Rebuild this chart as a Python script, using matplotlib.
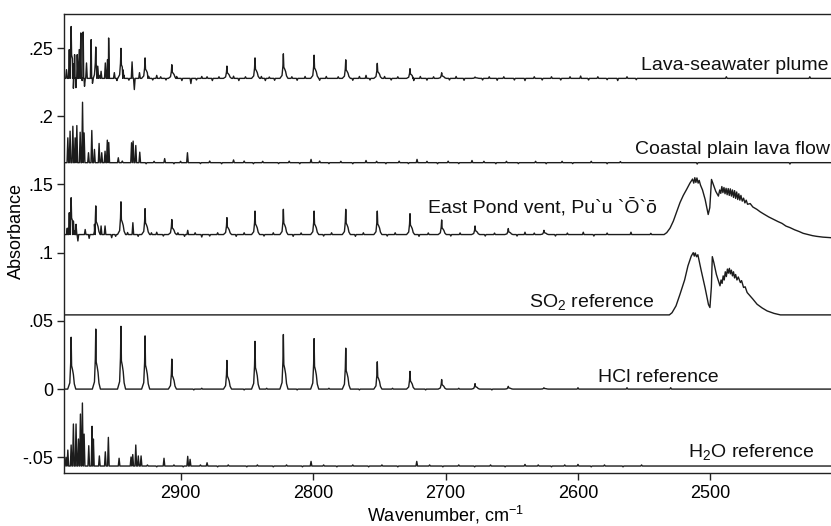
import numpy as np
import matplotlib.pyplot as plt

plt.rcParams['font.family'] = ['Liberation Sans', 'DejaVu Sans']
plt.rcParams['mathtext.fontset'] = 'custom'
plt.rcParams['mathtext.rm'] = 'Liberation Sans'

# HCl line positions (cm-1) shared by the traces
hcl_lines = [2982.6, 2964.0, 2945.0, 2926.8, 2906.6, 2865.0, 2843.8, 2822.4,
             2799.2, 2775.3, 2751.5, 2726.8, 2702.9, 2677.7, 2652.6, 2625.7]

# heights of those lines above each trace's baseline
hcl_ref_h = [0.038, 0.044, 0.046, 0.039, 0.022, 0.021, 0.035, 0.040,
             0.037, 0.030, 0.020, 0.013, 0.007, 0.004, 0.002, 0.001]
pond_h = [0.027, 0.021, 0.024, 0.019, 0.011, 0.0124, 0.0172, 0.0185,
          0.0172, 0.0185, 0.0172, 0.0153, 0.0107, 0.0063, 0.0044, 0.0031]
plume_h = [0.038, 0.023, 0.022, 0.015, 0.010, 0.009, 0.015, 0.018,
           0.017, 0.0136, 0.011, 0.0071, 0.0041, 0.001, 0.0, 0.0]

# baselines
plume_base = 0.2278
coastal_base = 0.1660
pond_base = 0.1133
so2_base = 0.0544
hcl_base = 0.0
h2o_base = -0.0564

# water / other narrow lines: (wavenumber, absorbance at tip)
plume_spikes = [(2986.1, 0.2342), (2984.0, 0.2489), (2980.9, 0.2205), (2980.0, 0.2452),
                (2979.0, 0.2210), (2978.0, 0.2452), (2976.5, 0.2489), (2975.3, 0.2611),
                (2974.3, 0.2262), (2973.5, 0.2618), (2972.5, 0.2220), (2971.0, 0.2391),
                (2967.5, 0.2562), (2966.5, 0.2242), (2962.5, 0.2367), (2960.0, 0.2330),
                (2956.8, 0.2391), (2955.1, 0.2416), (2954.3, 0.2574), (2950.0, 0.2320),
                (2936.6, 0.2399), (2934.9, 0.2196), (2931.0, 0.2320), (2918.0, 0.2300),
                (2892.2, 0.2240), (2880.0, 0.2290), (2836.0, 0.2262), (2760.0, 0.2300),
                (2724.0, 0.2262), (2640.0, 0.2262), (2598.0, 0.2295), (2570.0, 0.2262),
                (2488.0, 0.2290), (2425.0, 0.2290)]

# small baseline wiggles
plume_wiggles = [(2948, 0.2262), (2943, 0.2295), (2939, 0.2265), (2924, 0.2292),
                 (2921, 0.2266), (2915, 0.2290), (2911, 0.2266), (2903, 0.2292),
                 (2899, 0.2262), (2888, 0.2266), (2884, 0.2292), (2876, 0.2262),
                 (2871, 0.2290), (2860, 0.2294), (2856, 0.2262), (2851, 0.2290),
                 (2839, 0.2292), (2833, 0.2288), (2829, 0.2264), (2816, 0.2290),
                 (2812, 0.2264), (2806, 0.2292), (2795, 0.2264), (2790, 0.2292),
                 (2781, 0.2290), (2770, 0.2264), (2765, 0.2292), (2757, 0.2266),
                 (2746, 0.2292), (2741, 0.2266), (2736, 0.2290), (2719, 0.2292),
                 (2714, 0.2265), (2709, 0.2290), (2697, 0.2266), (2692, 0.2292),
                 (2686, 0.2264), (2672, 0.2266), (2667, 0.2290), (2661, 0.2264),
                 (2656, 0.2290), (2648, 0.2266), (2633, 0.2290), (2627, 0.2266),
                 (2620, 0.2290), (2613, 0.2266), (2606, 0.2290), (2592, 0.2266),
                 (2585, 0.2290), (2578, 0.2268), (2563, 0.2290), (2556, 0.2268)]

coastal_spikes = [(2985.1, 0.1842), (2983.4, 0.1891), (2981.3, 0.1927), (2979.6, 0.1842),
                  (2978.3, 0.1932), (2975.8, 0.1883), (2974.0, 0.2103), (2972.8, 0.1878),
                  (2969.5, 0.1733), (2967.0, 0.1896), (2965.0, 0.1757), (2961.5, 0.1801),
                  (2959.5, 0.1733), (2957.0, 0.1744), (2955.3, 0.1825), (2954.2, 0.1808),
                  (2947.0, 0.1696), (2937.0, 0.1806), (2935.8, 0.1818), (2933.8, 0.1786),
                  (2930.8, 0.1737), (2912.0, 0.1690), (2894.8, 0.1733), (2860.0, 0.1680),
                  (2801.5, 0.1684), (2760.0, 0.1676), (2721.5, 0.1684), (2680.0, 0.1676),
                  (2510.0, 0.1650), (2440.0, 0.1650)]

coastal_wiggles = [(2944, 0.1672), (2926, 0.1652), (2920, 0.1670), (2905, 0.1652),
                   (2900, 0.1670), (2885, 0.1653), (2878, 0.1672), (2869, 0.1652),
                   (2852, 0.1672), (2845, 0.1652), (2838, 0.1670), (2826, 0.1653),
                   (2818, 0.1671), (2810, 0.1652), (2795, 0.1672), (2788, 0.1653),
                   (2779, 0.1670), (2770, 0.1652), (2752, 0.1670), (2745, 0.1652),
                   (2735, 0.1671), (2728, 0.1653), (2714, 0.1670), (2706, 0.1652),
                   (2698, 0.1671), (2690, 0.1653), (2671, 0.1670), (2662, 0.1652),
                   (2654, 0.1670), (2645, 0.1653), (2632, 0.1670), (2624, 0.1652),
                   (2612, 0.1670), (2604, 0.1653), (2590, 0.1670), (2578, 0.1652),
                   (2568, 0.1668)]

pond_spikes = [(2985.5, 0.1180), (2984.0, 0.1293), (2980.9, 0.1232), (2978.9, 0.1208),
               (2977.5, 0.1086), (2972.0, 0.1170), (2969.0, 0.1105), (2965.0, 0.1208),
               (2960.0, 0.1196), (2957.0, 0.1196), (2952.0, 0.1110), (2936.0, 0.1220),
               (2918.0, 0.1150), (2894.6, 0.1164), (2884.0, 0.1115), (2640.0, 0.1150),
               (2596.0, 0.1150), (2560.0, 0.1150)]

pond_wiggles = [(2949, 0.1120), (2940, 0.1148), (2932, 0.1120), (2922, 0.1146),
                (2913, 0.1122), (2902, 0.1146), (2897, 0.1120), (2889, 0.1146),
                (2878, 0.1122), (2872, 0.1146), (2858, 0.1120), (2852, 0.1146),
                (2837, 0.1122), (2830, 0.1146), (2815, 0.1120), (2809, 0.1145),
                (2792, 0.1122), (2786, 0.1146), (2768, 0.1120), (2762, 0.1146),
                (2744, 0.1122), (2738, 0.1146), (2720, 0.1120), (2713, 0.1145),
                (2696, 0.1122), (2689, 0.1145), (2670, 0.1122), (2663, 0.1144),
                (2646, 0.1122), (2633, 0.1144), (2617, 0.1122), (2608, 0.1144),
                (2588, 0.1122), (2578, 0.1144), (2545, 0.1142)]

hcl_spikes = [(2600.0, 0.0010), (2563.0, 0.0010), (2530.0, 0.0010),
              (2890, -0.0006), (2884, 0.0006), (2852, -0.0006), (2835, 0.0006),
              (2812, -0.0006), (2788, 0.0006), (2765, -0.0006), (2740, 0.0006),
              (2715, -0.0006), (2690, 0.0006), (2665, -0.0006)]

h2o_spikes = [(2986.5, -0.0500), (2985.1, -0.0447), (2982.6, -0.0410), (2980.9, -0.0256),
              (2978.9, -0.0256), (2977.1, -0.0366), (2975.6, -0.0183), (2974.1, -0.0102),
              (2972.8, -0.0330), (2969.3, -0.0415), (2966.8, -0.0273), (2965.8, -0.0366),
              (2961.3, -0.0490), (2956.8, -0.0460), (2954.5, -0.0354), (2946.4, -0.0507),
              (2937.4, -0.0498), (2936.1, -0.0480), (2933.8, -0.0410), (2931.9, -0.0490),
              (2929.8, -0.0490), (2912.5, -0.0507), (2894.6, -0.0493), (2892.8, -0.0515),
              (2880.0, -0.0540), (2801.5, -0.0530), (2721.7, -0.0530), (2640.0, -0.0552),
              (2600.0, -0.0552)]

h2o_wiggles = [(2925, -0.0556), (2918, -0.0570), (2905, -0.0556), (2898, -0.0570),
               (2885, -0.0556), (2872, -0.0570), (2864, -0.0556), (2850, -0.0570),
               (2842, -0.0556), (2830, -0.0570), (2820, -0.0556), (2808, -0.0570),
               (2792, -0.0556), (2782, -0.0570), (2770, -0.0556), (2758, -0.0570),
               (2748, -0.0556), (2736, -0.0570), (2712, -0.0556), (2702, -0.0570),
               (2690, -0.0556), (2678, -0.0570), (2666, -0.0556), (2655, -0.0570),
               (2630, -0.0556), (2620, -0.0570), (2610, -0.0556), (2590, -0.0570),
               (2580, -0.0556), (2566, -0.0570), (2552, -0.0556)]

# SO2 band: (wavenumber, absorbance)
so2_band = [(2531.0, 0.0544), (2529.0, 0.0560), (2526.0, 0.0610), (2523.0, 0.0695),
            (2519.5, 0.0800), (2517.0, 0.0903), (2514.5, 0.0975), (2513.0, 0.1000),
            (2512.2, 0.0975), (2511.5, 0.0998), (2510.5, 0.0970), (2509.5, 0.0985),
            (2507.0, 0.0870), (2504.0, 0.0740), (2501.5, 0.0620), (2500.4, 0.0598),
            (2499.3, 0.0750), (2498.6, 0.0971), (2497.5, 0.0930), (2495.5, 0.0840),
            (2492.8, 0.0757), (2492.0, 0.0800), (2491.2, 0.0775), (2490.4, 0.0830),
            (2489.6, 0.0800), (2488.8, 0.0860), (2488.0, 0.0825), (2487.2, 0.0880),
            (2486.5, 0.0850), (2485.7, 0.0885), (2485.0, 0.0845), (2484.2, 0.0872),
            (2483.4, 0.0830), (2482.6, 0.0860), (2481.8, 0.0815), (2481.0, 0.0840),
            (2480.0, 0.0800), (2479.0, 0.0822), (2477.4, 0.0781), (2476.5, 0.0795),
            (2475.0, 0.0745), (2473.8, 0.0750), (2472.3, 0.0708), (2468.0, 0.0660),
            (2464.8, 0.0622), (2461.0, 0.0595), (2457.2, 0.0573), (2452.0, 0.0555),
            (2447.2, 0.0544)]

pond_band = [(2535.0, 0.1133), (2533.0, 0.1147), (2530.5, 0.1180), (2528.0, 0.1232),
             (2525.5, 0.1300), (2523.0, 0.1367), (2520.5, 0.1420), (2518.0, 0.1464),
             (2515.5, 0.1510), (2513.5, 0.1540), (2512.6, 0.1510), (2511.8, 0.1550),
             (2511.0, 0.1515), (2510.2, 0.1548), (2509.3, 0.1510), (2508.5, 0.1530),
             (2507.5, 0.1495), (2506.0, 0.1460), (2504.0, 0.1390), (2502.5, 0.1320),
             (2501.7, 0.1280), (2500.5, 0.1330), (2499.2, 0.1537), (2497.5, 0.1490),
             (2496.0, 0.1450), (2494.0, 0.1415), (2493.0, 0.1460), (2492.2, 0.1435),
             (2491.4, 0.1485), (2490.6, 0.1440), (2489.8, 0.1478), (2489.0, 0.1432),
             (2488.2, 0.1472), (2487.4, 0.1425), (2486.6, 0.1470), (2485.8, 0.1420),
             (2485.0, 0.1468), (2484.2, 0.1415), (2483.4, 0.1460), (2482.6, 0.1405),
             (2481.8, 0.1455), (2481.0, 0.1398), (2480.2, 0.1445), (2479.4, 0.1390),
             (2478.6, 0.1432), (2477.8, 0.1385), (2477.0, 0.1420), (2476.0, 0.1378),
             (2475.0, 0.1400), (2474.0, 0.1365), (2473.0, 0.1385), (2472.0, 0.1355),
             (2470.0, 0.1360), (2468.0, 0.1335), (2465.0, 0.1318), (2462.5, 0.1300),
             (2460.0, 0.1285), (2456.0, 0.1262), (2452.5, 0.1245), (2449.0, 0.1228),
             (2446.0, 0.1215), (2443.0, 0.1195), (2440.0, 0.1184), (2436.5, 0.1168),
             (2433.0, 0.1155), (2430.0, 0.1142), (2427.0, 0.1135), (2423.0, 0.1125),
             (2420.0, 0.1120), (2415.0, 0.1114), (2409.0, 0.1110)]

# peak shape for the HCl-type lines (offset in cm-1, fraction of height)
hcl_dx = [2.6, 1.0, 0.35, 0.0, -0.35, -1.0, -1.7, -2.4, -3.5]
hcl_frac = [0.0, 0.12, 0.5, 1.0, 0.45, 0.38, 0.28, 0.10, 0.0]
spike_dx = [0.6, 0.0, -0.6]

x_hi, x_lo = 2988.0, 2409.0


def build_trace(base, line_h=None, spikes=(), band=()):
    pts = [(x_hi, base), (x_lo, base)]
    if band:
        # drop the flat baseline under the band
        lo_edge, hi_edge = band[-1][0], band[0][0]
        pts = [p for p in pts if not (lo_edge <= p[0] <= hi_edge)]
        pts.append((hi_edge + 0.5, base))
        if lo_edge > x_lo + 1:
            pts.append((lo_edge - 0.5, base))
    if line_h is not None:
        for w, h in zip(hcl_lines, line_h):
            if h <= 0:
                continue
            for dx, f in zip(hcl_dx, hcl_frac):
                pts.append((w + dx, base + f * h))
    for w, v in spikes:
        pts.append((w + spike_dx[0], base))
        pts.append((w, v))
        pts.append((w + spike_dx[2], base))
    pts += list(band)
    pts.sort(key=lambda p: -p[0])
    xs = np.array([p[0] for p in pts])
    ys = np.array([p[1] for p in pts])
    return xs, ys


traces = [
    build_trace(plume_base, plume_h, plume_spikes + plume_wiggles),
    build_trace(coastal_base, None, coastal_spikes + coastal_wiggles),
    build_trace(pond_base, pond_h, pond_spikes + pond_wiggles, pond_band),
    build_trace(so2_base, None, (), so2_band),
    build_trace(hcl_base, hcl_ref_h, hcl_spikes),
    build_trace(h2o_base, None, h2o_spikes + h2o_wiggles),
]

fig = plt.figure(figsize=(8.31, 5.26), dpi=100)
ax = fig.add_axes([0.077, 0.1008, 0.923, 0.8726])

for xs, ys in traces:
    ax.plot(xs, ys, color='#1c1c1c', lw=1.0)

ax.set_xlim(x_hi, x_lo)
ax.set_ylim(-0.0615, 0.275)

ax.set_xticks([2900, 2800, 2700, 2600, 2500])
ax.set_yticks([-0.05, 0, 0.05, 0.1, 0.15, 0.2, 0.25],
              ['-.05', '0', '.05', '.1', '.15', '.2', '.25'])
ax.tick_params(axis='both', direction='out', length=5, width=1, labelsize=13, color='#222222')
ax.tick_params(axis='x', pad=4)
ax.tick_params(axis='y', pad=2.5)

ax.spines['right'].set_visible(False)
for s in ['left', 'bottom', 'top']:
    ax.spines[s].set_linewidth(1.0)
    ax.spines[s].set_color('#222222')

ax.set_ylabel('Absorbance', fontsize=13)
ax.yaxis.set_label_coords(-0.051, 0.527)
ax.set_xlabel('Wavenumber, cm$^{\\mathregular{-1}}$', fontsize=13)
ax.xaxis.set_label_coords(0.498, -0.068)

lbl = dict(fontsize=14, va='baseline', color='#111111')
ax.text(2410.6, 0.2342, 'Lava-seawater plume', ha='right', **lbl)
ax.text(2409.8, 0.1720, 'Coastal plain lava flow', ha='right', **lbl)
ax.text(2713.2, 0.1293, 'East Pond vent, Pu`u `Ō`ō', ha='left', **lbl)
ax.text(2637.0, 0.0600, 'SO$_\\mathregular{2}$ reference', ha='left', **lbl)
ax.text(2584.9, 0.0049, 'HCl reference', ha='left', **lbl)
ax.text(2517.0, -0.0500, 'H$_\\mathregular{2}$O reference', ha='left', **lbl)

fig.savefig('out.png', dpi=100)
